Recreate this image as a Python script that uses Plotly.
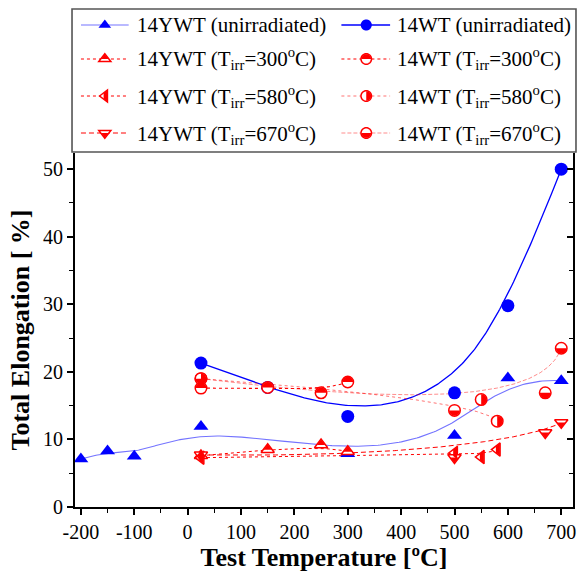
import numpy as np
import plotly.graph_objects as go

# ---------------- data ----------------
t_ywt_unirr = [-200, -150, -100, 25, 300, 500, 600, 700]
el_ywt_unirr = [7.1, 8.3, 7.5, 11.9, 7.9, 10.6, 19.1, 18.7]

t_wt_unirr = [25, 150, 300, 500, 600, 700]
el_wt_unirr = [21.3, 17.7, 13.4, 16.9, 29.8, 50.0]

t_ywt_300 = [25, 150, 250, 300]
el_ywt_300 = [7.6, 8.5, 9.2, 8.2]

t_ywt_580 = [25, 500, 550, 580]
el_ywt_580 = [7.3, 8.0, 7.4, 8.5]

t_ywt_670 = [25, 500, 670, 700]
el_ywt_670 = [7.7, 7.3, 11.0, 12.5]

t_wt_300 = [25, 150, 250, 300]
el_wt_300 = [17.6, 17.7, 16.9, 18.5]

t_wt_580 = [25, 550, 580]
el_wt_580 = [19.0, 15.9, 12.7]

t_wt_670 = [25, 500, 670, 700]
el_wt_670 = [19.0, 14.3, 16.9, 23.5]

x_ticks = [-200, -100, 0, 100, 200, 300, 400, 500, 600, 700]
x_ticklabels = ["-200", "-100", "0", "100", "200", "300", "400", "500", "600", "700"]
y_ticks = [0, 10, 20, 30, 40, 50]

# ---------------- layout geometry ----------------
W, H = 582, 575
PL, PR, PT, PB = 75, 576, 153, 507
X_RANGE = [-211, 722]
Y_RANGE = [0, 52.4]

BLUE = "#0000ff"
RED = "#ff0000"
SERIF = "'Liberation Serif', 'Times New Roman', serif"


def px_x(px):
    return (px - PL) / (PR - PL)


def px_y(py):
    return (PB - py) / (PB - PT)


def bspline(xs, ys, n=240):
    """Clamped uniform B-spline using the points as control polygon."""
    P = np.column_stack([xs, ys]).astype(float)
    m = len(P)
    k = min(3, m - 1)
    knots = np.concatenate([np.zeros(k), np.linspace(0, 1, m - k + 1), np.ones(k)])
    out = []
    for t in np.linspace(0, 1, n):
        s = np.searchsorted(knots, t, side="right") - 1
        s = min(max(s, k), m - 1)
        d = [P[j + s - k].copy() for j in range(k + 1)]
        for r in range(1, k + 1):
            for j in range(k, r - 1, -1):
                den = knots[j + 1 + s - r] - knots[j + s - k]
                a = 0.0 if den == 0 else (t - knots[j + s - k]) / den
                d[j] = (1 - a) * d[j - 1] + a * d[j]
        out.append(d[k])
    out = np.array(out)
    return out[:, 0], out[:, 1]


def poly_path(pts):
    return "M" + " L".join(f"{x:.2f},{y:.2f}" for x, y in pts) + " Z"


def symbol_paths(kind, size):
    """Outline polygon in pixel units (y up) for a marker."""
    r = size / 2.0
    rt = r * 2 / np.sqrt(3)
    if kind == "circle":
        a = np.linspace(0, 2 * np.pi, 40, endpoint=False)
        return list(zip(r * np.cos(a), r * np.sin(a)))
    if kind == "tri-up":
        return [(0, r), (-rt, -r / 2), (rt, -r / 2)]
    if kind == "tri-left":
        return [(-r, 0), (r / 2, rt), (r / 2, -rt)]
    if kind == "tri-down":
        return [(0, -r), (-rt, r / 2), (rt, r / 2)]


def half_path(kind, half, size):
    """Filled part of a marker, in pixel units (y up)."""
    r = size / 2.0 - 0.4
    rt = r * 2 / np.sqrt(3)
    f = 0.68  # share of the triangle height that is filled
    if kind == "circle":
        start = {"top": 0, "right": -np.pi / 2, "bottom": np.pi}[half]
        a = np.linspace(start, start + np.pi, 20)
        return poly_path(list(zip(r * np.cos(a), r * np.sin(a))))
    if kind == "tri-up":
        ys = r - f * 1.5 * r
        return poly_path([(0, r), (-rt * f, ys), (rt * f, ys)])
    if kind == "tri-left":
        return poly_path([(-r / 4, rt / 2), (r / 2, rt), (r / 2, -rt), (-r / 4, -rt / 2)])
    if kind == "tri-down":
        ys = -r + f * 1.5 * r
        return poly_path([(-rt * f, ys), (rt * f, ys), (0, -r)])


PLOTLY_SYMBOL = {"circle": "circle", "tri-up": "triangle-up",
                 "tri-left": "triangle-left", "tri-down": "triangle-down"}

# (name, x, y, colour, line dash, line width, marker kind, half, marker size)
series = [
    ("14YWT (unirradiated)", t_ywt_unirr, el_ywt_unirr, "rgba(0,0,255,0.55)", "solid", 1.1, "tri-up", "full", 13),
    ("14WT (unirradiated)", t_wt_unirr, el_wt_unirr, BLUE, "solid", 1.3, "circle", "full", 13),
    ("14YWT (T<sub>irr</sub>=300<sup>o</sup>C)", t_ywt_300, el_ywt_300, RED, "3px,3px", 1.0, "tri-up", "top", 13),
    ("14WT (T<sub>irr</sub>=300<sup>o</sup>C)", t_wt_300, el_wt_300, RED, "dot", 1.1, "circle", "top", 13),
    ("14YWT (T<sub>irr</sub>=580<sup>o</sup>C)", t_ywt_580, el_ywt_580, RED, "dot", 1.0, "tri-left", "right", 13),
    ("14WT (T<sub>irr</sub>=580<sup>o</sup>C)", t_wt_580, el_wt_580, "rgba(255,0,0,0.55)", "dot", 1.0, "circle", "right", 13),
    ("14YWT (T<sub>irr</sub>=670<sup>o</sup>C)", t_ywt_670, el_ywt_670, RED, "5px,3px", 1.0, "tri-down", "bottom", 13),
    ("14WT (T<sub>irr</sub>=670<sup>o</sup>C)", t_wt_670, el_wt_670, "rgba(255,0,0,0.45)", "4px,2px", 1.0, "circle", "bottom", 13),
]

fig = go.Figure()
shapes = []

# connecting curves
for name, xs, ys, col, dash, lw, kind, half, msz in series:
    cx, cy = bspline(xs, ys)
    fig.add_trace(go.Scatter(x=cx, y=cy, mode="lines", showlegend=False, hoverinfo="skip",
                             line=dict(color=col, width=lw, dash=dash)))

# markers: blue solid first, then red part-filled symbols
for name, xs, ys, col, dash, lw, kind, half, msz in series:
    if half == "full":
        fig.add_trace(go.Scatter(x=xs, y=ys, mode="markers", name=name, showlegend=False,
                                 marker=dict(symbol=PLOTLY_SYMBOL[kind], size=msz, color=BLUE,
                                             line=dict(width=0))))
for name, xs, ys, col, dash, lw, kind, half, msz in series:
    if half != "full":
        fig.add_trace(go.Scatter(x=xs, y=ys, mode="markers", name=name, showlegend=False,
                                 marker=dict(symbol=PLOTLY_SYMBOL[kind], size=msz - 1.5, color="white",
                                             line=dict(width=1.5, color=RED))))
        hp = half_path(kind, half, msz - 1.5)
        for xv, yv in zip(xs, ys):
            shapes.append(dict(type="path", xref="x", yref="y", xsizemode="pixel", ysizemode="pixel",
                               xanchor=xv, yanchor=yv, path=hp, fillcolor=RED,
                               line=dict(width=0), layer="above"))

# ---------------- legend box ----------------
shapes.append(dict(type="rect", xref="paper", yref="paper",
                   x0=px_x(72), x1=px_x(579), y0=px_y(152), y1=px_y(9),
                   line=dict(color="#555555", width=1.6), fillcolor="rgba(0,0,0,0)", layer="above"))

col_line = [(81, 129, 105, 135), (343, 392, 368, 397)]  # line x0, x1, marker x, text x
row_y = [25, 59, 96, 133]
annotations = []
for i, (name, xs, ys, col, dash, lw, kind, half, msz) in enumerate(series):
    c, r = i % 2, i // 2
    lx0, lx1, mx, tx = col_line[c]
    ly = row_y[r]
    shapes.append(dict(type="line", xref="paper", yref="paper",
                       x0=px_x(lx0), x1=px_x(lx1), y0=px_y(ly), y1=px_y(ly),
                       line=dict(color=col, width=lw, dash=dash), layer="above"))
    if half == "full":
        shapes.append(dict(type="path", xref="paper", yref="paper", xsizemode="pixel", ysizemode="pixel",
                           xanchor=px_x(mx), yanchor=px_y(ly), path=poly_path(symbol_paths(kind, msz - 2)),
                           fillcolor=BLUE, line=dict(width=0), layer="above"))
    else:
        shapes.append(dict(type="path", xref="paper", yref="paper", xsizemode="pixel", ysizemode="pixel",
                           xanchor=px_x(mx), yanchor=px_y(ly), path=poly_path(symbol_paths(kind, msz - 2.5)),
                           fillcolor="white", line=dict(width=1.5, color=RED), layer="above"))
        shapes.append(dict(type="path", xref="paper", yref="paper", xsizemode="pixel", ysizemode="pixel",
                           xanchor=px_x(mx), yanchor=px_y(ly), path=half_path(kind, half, msz - 2.5),
                           fillcolor=RED, line=dict(width=0), layer="above"))
    annotations.append(dict(xref="paper", yref="paper", x=px_x(tx), y=px_y(ly),
                            xanchor="left", yanchor="middle", showarrow=False, text=name,
                            font=dict(family=SERIF, size=21, color="black")))

axis_common = dict(showgrid=False, zeroline=False, showline=True, linecolor="black", linewidth=2,
                   tickcolor="black", tickwidth=1.5, ticklen=6,
                   tickfont=dict(family=SERIF, size=20, color="black"))

fig.update_layout(
    width=W, height=H,
    margin=dict(l=PL, r=W - PR, t=PT, b=H - PB),
    paper_bgcolor="white", plot_bgcolor="white",
    showlegend=False,
    font=dict(family=SERIF, color="black"),
    xaxis=dict(range=X_RANGE, tickvals=x_ticks, ticktext=x_ticklabels, ticks="outside",
               minor=dict(dtick=50, tick0=0, ticks="outside", ticklen=4, tickcolor="black", tickwidth=1.2),
               title=dict(text="<b>Test Temperature [ºC]</b>", standoff=3,
                          font=dict(family=SERIF, size=26, color="black")),
               **axis_common),
    yaxis=dict(range=Y_RANGE, tickvals=y_ticks, ticks="outside",
               minor=dict(dtick=5, tick0=0, ticks="outside", ticklen=4, tickcolor="black", tickwidth=1.2),
               title=dict(text="<b>Total Elongation [ %]</b>", standoff=6,
                          font=dict(family=SERIF, size=26, color="black")),
               **axis_common),
    yaxis2=dict(range=Y_RANGE, overlaying="y", side="right", tickvals=y_ticks, ticks="inside",
                showticklabels=False, showgrid=False, zeroline=False, showline=True,
                linecolor="black", linewidth=2, tickcolor="black", tickwidth=1.5, ticklen=6,
                minor=dict(dtick=5, tick0=0, ticks="inside", ticklen=4, tickcolor="black", tickwidth=1.2)),
    shapes=shapes,
    annotations=annotations,
)

# invisible trace so the right-hand axis is drawn
fig.add_trace(go.Scatter(x=[X_RANGE[0]], y=[Y_RANGE[0]], yaxis="y2", mode="markers",
                         marker=dict(opacity=0), showlegend=False, hoverinfo="skip"))

fig.write_html("out.html")
